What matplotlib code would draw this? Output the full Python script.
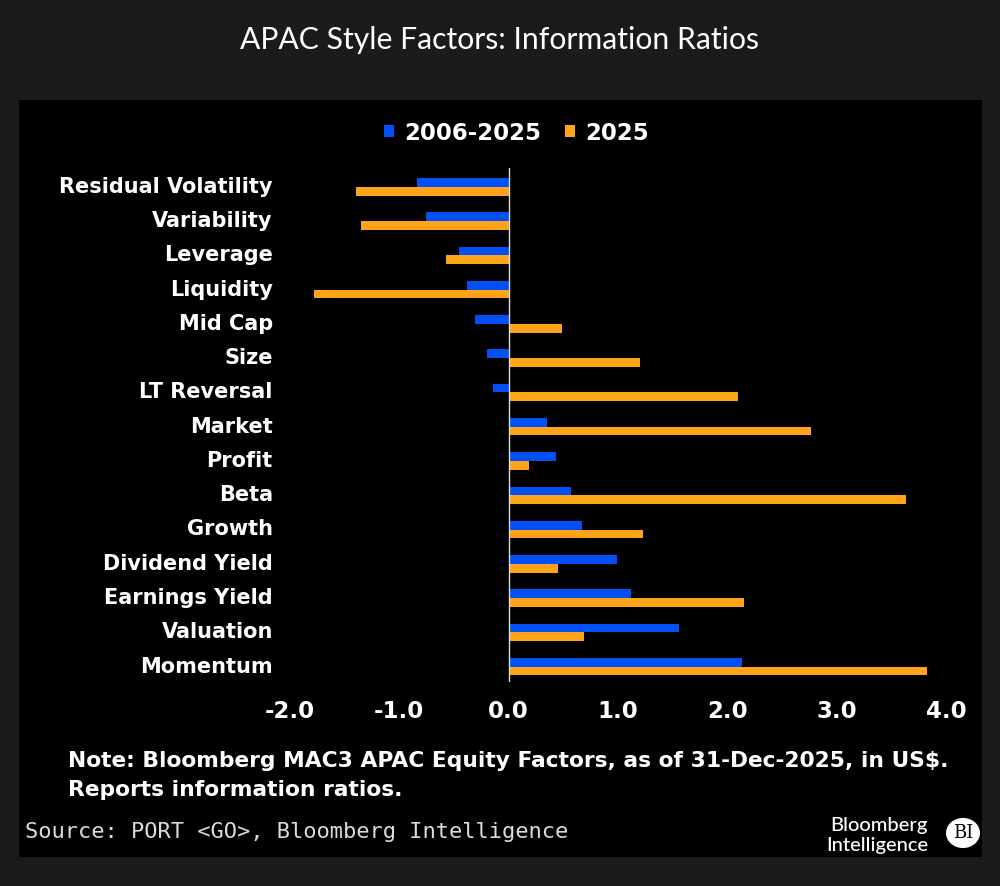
import matplotlib
matplotlib.use("Agg")
import matplotlib.pyplot as plt
from matplotlib.patches import Patch, Rectangle, Circle
import numpy as np

factors = ["Residual Volatility", "Variability", "Leverage", "Liquidity", "Mid Cap",
           "Size", "LT Reversal", "Market", "Profit", "Beta", "Growth",
           "Dividend Yield", "Earnings Yield", "Valuation", "Momentum"]
ir_2006_2025 = [-0.84, -0.75, -0.45, -0.38, -0.31, -0.20, -0.14, 0.35, 0.43, 0.57,
                0.67, 0.99, 1.12, 1.56, 2.13]
ir_2025 = [-1.39, -1.35, -0.57, -1.78, 0.49, 1.20, 2.10, 2.76, 0.19, 3.63,
           1.23, 0.45, 2.15, 0.69, 3.82]
xticks = [-2.0, -1.0, 0.0, 1.0, 2.0, 3.0, 4.0]
series_names = ["2006-2025", "2025"]

BLUE = "#0050f5"
ORANGE = "#ffa31a"
W, H = 1000, 886

fig = plt.figure(figsize=(W / 100, H / 100), dpi=100)
fig.patch.set_facecolor("#1b1b1b")

# black inner panel
fig.patches.append(Rectangle((19 / W, 1 - 857 / H), (982 - 19) / W, (857 - 100) / H,
                             transform=fig.transFigure, facecolor="black",
                             edgecolor="none", zorder=-10))

ax = fig.add_axes([289.5 / W, 1 - 682 / H, (946.5 - 289.5) / W, (682 - 168) / H])
ax.set_zorder(1)
ax.patch.set_alpha(0)

y = np.arange(len(factors))
h = 0.255
ax.barh(y - h / 2, ir_2006_2025, height=h, color=BLUE, zorder=2)
ax.barh(y + h / 2, ir_2025, height=h, color=ORANGE, zorder=2)
ax.axvline(0, color="#dddddd", lw=1.0, zorder=3)

ax.set_xlim(-2.0, 4.0)
ax.set_ylim(14.45, -0.55)
ax.set_xticks(xticks)
ax.set_xticklabels([f"{t:.1f}" for t in xticks])
ax.set_yticks(y - 0.06)
ax.set_yticklabels(factors)
for s in ax.spines.values():
    s.set_visible(False)
ax.tick_params(axis="both", length=0, colors="white")
ax.tick_params(axis="y", pad=12)
ax.tick_params(axis="x", pad=13)
for lab in ax.get_yticklabels():
    lab.set_fontweight("bold")
    lab.set_fontsize(15)
    lab.set_color("white")
for lab in ax.get_xticklabels():
    lab.set_fontweight("bold")
    lab.set_fontsize(16.5)
    lab.set_color("white")

handles = [Patch(facecolor=BLUE), Patch(facecolor=ORANGE)]
leg = fig.legend(handles, series_names, loc="center", ncol=2,
                 bbox_to_anchor=(516.5 / W, 1 - 133 / H), frameon=False,
                 handlelength=0.45, handleheight=0.45, handletextpad=0.45,
                 columnspacing=1.0, prop={"weight": "bold", "size": 16.5})
for t in leg.get_texts():
    t.set_color("white")

fig.text(0.5, 1 - 40 / H, "APAC Style Factors: Information Ratios", ha="center",
         va="center", color="white", fontsize=21.7, family="Lato")

fig.text(68 / W, 1 - 761 / H,
         "Note: Bloomberg MAC3 APAC Equity Factors, as of 31-Dec-2025, in US$.",
         ha="left", va="center", color="white", fontsize=15.7, fontweight="bold")
fig.text(68 / W, 1 - 790 / H, "Reports information ratios.",
         ha="left", va="center", color="white", fontsize=15.7, fontweight="bold")

fig.text(25 / W, 1 - 832 / H, "Source: PORT <GO>, Bloomberg Intelligence",
         ha="left", va="center", color="#dcdcdc", fontsize=15.8, family="DejaVu Sans Mono")

fig.text(928 / W, 1 - 825 / H, "Bloomberg", ha="right", va="center", color="white",
         fontsize=14.5, family="Lato", fontweight="medium")
fig.text(928 / W, 1 - 845 / H, "Intelligence", ha="right", va="center", color="white",
         fontsize=14.5, family="Lato", fontweight="medium")
fig.patches.append(Circle((963 / W, 1 - 833 / H), 17 / W, transform=fig.transFigure,
                          facecolor="white", edgecolor="none", zorder=1))
fig.text(963 / W, 1 - 833 / H, "BI", ha="center", va="center", color="black",
         fontsize=13, family="DejaVu Serif", zorder=2)

fig.savefig("out.png", dpi=100, facecolor=fig.get_facecolor())
